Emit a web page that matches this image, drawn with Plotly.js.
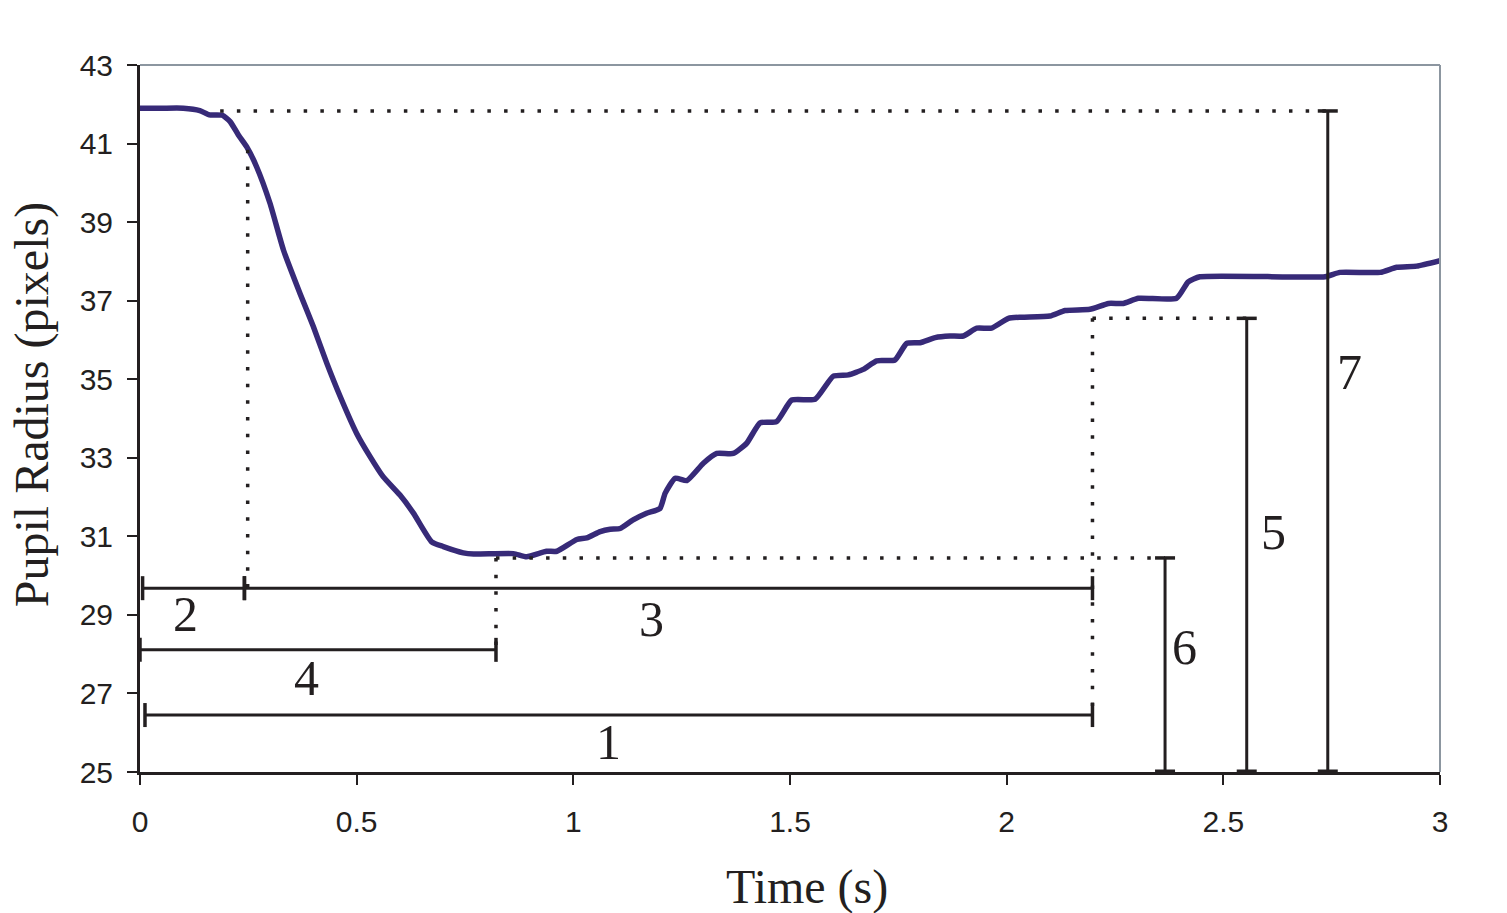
<!DOCTYPE html>
<html>
<head>
<meta charset="utf-8">
<script src="https://cdn.plot.ly/plotly-3.0.1.min.js"></script>
<style>
  html, body { margin: 0; padding: 0; background: #fff; }
  #chart { width: 1507px; height: 913px; }
</style>
</head>
<body>
<div id="chart"></div>
<script>
// pupil radius trace
const time = [0, 0.05, 0.1, 0.138, 0.16, 0.19, 0.208, 0.227, 0.246, 0.269, 0.3, 0.331, 0.369, 0.4, 0.431,
  0.462, 0.5, 0.531, 0.561, 0.6, 0.631, 0.673, 0.7, 0.746, 0.77, 0.862, 0.892, 0.938, 0.962, 1.008,
  1.031, 1.062, 1.085, 1.108, 1.138, 1.169, 1.2, 1.212, 1.235, 1.262, 1.3, 1.331, 1.369, 1.4, 1.431,
  1.469, 1.504, 1.558, 1.6, 1.635, 1.669, 1.7, 1.742, 1.769, 1.8, 1.835, 1.869, 1.9, 1.931, 1.965,
  2.004, 2.035, 2.1, 2.135, 2.192, 2.235, 2.269, 2.304, 2.392, 2.419, 2.446, 2.735, 2.769, 2.862,
  2.9, 2.946, 3.0];
const radius = [41.9, 41.9, 41.9, 41.84, 41.73, 41.72, 41.56, 41.22, 40.92, 40.41, 39.48, 38.29, 37.19, 36.34, 35.41,
  34.56, 33.62, 33.03, 32.52, 32.05, 31.59, 30.86, 30.74, 30.58, 30.55, 30.56, 30.48, 30.62, 30.62, 30.92,
  30.96, 31.12, 31.18, 31.2, 31.42, 31.59, 31.71, 32.1, 32.48, 32.42, 32.86, 33.11, 33.11, 33.37, 33.89,
  33.92, 34.47, 34.49, 35.08, 35.11, 35.25, 35.47, 35.49, 35.91, 35.93, 36.06, 36.1, 36.1, 36.3, 36.3,
  36.55, 36.58, 36.61, 36.75, 36.78, 36.93, 36.93, 37.06, 37.06, 37.48, 37.61, 37.61, 37.72, 37.72,
  37.85, 37.88, 38.02];

// horizontal measurement bars (1..4)
const hBarStart = [0.0115, 0.006, 0.241, 0];
const hBarEnd = [2.198, 0.241, 2.198, 0.8215];
const hBarLevel = [26.45, 29.68, 29.68, 28.11];

// vertical measurement bars (6, 5, 7), standing on the axis floor
const vBarTime = [2.3655, 2.554, 2.741];
const vBarTop = [30.45, 36.55, 41.83];
const floor = 25;

// dotted guide lines
const guideX0 = [0.185, 0.2485, 0.8215, 0.8215, 2.198, 2.198];
const guideX1 = [2.741, 0.2485, 0.8215, 2.3655, 2.198, 2.554];
const guideY0 = [41.83, 40.84, 30.45, 30.45, 36.55, 36.55];
const guideY1 = [41.83, 29.68, 28.11, 30.45, 26.45, 36.55];

// bar numbers
const labelText = ['1', '2', '3', '4', '5', '6', '7'];
const labelTime = [1.082, 0.104, 1.181, 0.385, 2.615, 2.411, 2.79];
const labelRadius = [25.77, 29.03, 28.9, 27.39, 31.11, 28.18, 35.18];

const ink = '#231f20';
const serif = 'Liberation Serif, Times New Roman, serif';
const sans = 'Liberation Sans, Arial, sans-serif';

const shapes = [];

// top and right frame, grey
shapes.push({ type: 'line', xref: 'paper', yref: 'paper', x0: 0, x1: 1, y0: 1, y1: 1, line: { color: '#8c96a0', width: 2 } });
shapes.push({ type: 'line', xref: 'paper', yref: 'paper', x0: 1, x1: 1, y0: 0, y1: 1, line: { color: '#8c96a0', width: 2 } });

guideX0.forEach((x0, i) => {
  shapes.push({
    type: 'line', xref: 'x', yref: 'y', x0, x1: guideX1[i], y0: guideY0[i], y1: guideY1[i],
    line: { color: ink, width: 3.5, dash: '3.5px,13.2px' },
  });
});

hBarStart.forEach((x0, i) => {
  const x1 = hBarEnd[i];
  const y = hBarLevel[i];
  shapes.push({ type: 'line', xref: 'x', yref: 'y', x0, x1, y0: y, y1: y, line: { color: ink, width: 3 } });
  [x0, x1].forEach((xc) => {
    shapes.push({
      type: 'line', xref: 'x', yref: 'y', ysizemode: 'pixel', yanchor: y,
      x0: xc, x1: xc, y0: -12, y1: 12, line: { color: ink, width: 3.5 },
    });
  });
});

vBarTime.forEach((x, i) => {
  const top = vBarTop[i];
  shapes.push({ type: 'line', xref: 'x', yref: 'y', x0: x, x1: x, y0: floor, y1: top, line: { color: ink, width: 3 } });
  [floor, top].forEach((yc) => {
    shapes.push({
      type: 'line', xref: 'x', yref: 'y', xsizemode: 'pixel', xanchor: x,
      x0: -10, x1: 10, y0: yc, y1: yc, line: { color: ink, width: yc === floor ? 5 : 3.5 },
    });
  });
});

const annotations = labelText.map((text, i) => ({
  x: labelTime[i], y: labelRadius[i], xref: 'x', yref: 'y', text, showarrow: false,
  font: { family: serif, size: 50, color: ink },
}));

// axis titles sit a little off-centre in the original, so place them as annotations
annotations.push({
  xref: 'paper', yref: 'paper', x: 0.513, y: -0.1627, xanchor: 'center', yanchor: 'middle',
  text: 'Time (s)', showarrow: false, font: { family: serif, size: 48, color: ink },
});
annotations.push({
  xref: 'paper', yref: 'paper', x: -0.083, y: 0.519, xanchor: 'center', yanchor: 'middle',
  text: 'Pupil Radius (pixels)', textangle: -90, showarrow: false, borderpad: 0,
  font: { family: serif, size: 48, color: ink },
});

const traces = [{
  type: 'scatter',
  mode: 'lines',
  x: time,
  y: radius,
  line: { color: '#372a78', width: 5.5, shape: 'spline', smoothing: 0.5 },
  hoverinfo: 'x+y',
}];

const layout = {
  width: 1507,
  height: 913,
  margin: { l: 140, r: 67, t: 65, b: 141 },
  paper_bgcolor: '#fff',
  plot_bgcolor: '#fff',
  showlegend: false,
  shapes,
  annotations,
  xaxis: {
    range: [0, 3],
    tickvals: [0, 0.5, 1, 1.5, 2, 2.5, 3],
    ticktext: ['0', '0.5', '1', '1.5', '2', '2.5', '3'],
    showgrid: false,
    zeroline: false,
    showline: true,
    linecolor: ink,
    linewidth: 3,
    ticks: 'outside',
    ticklen: 10,
    tickwidth: 2,
    tickcolor: ink,
    ticklabelstandoff: 11,
    tickfont: { family: sans, size: 30, color: ink },
  },
  yaxis: {
    range: [25, 43],
    tickvals: [25, 27, 29, 31, 33, 35, 37, 39, 41, 43],
    showgrid: false,
    zeroline: false,
    showline: true,
    linecolor: ink,
    linewidth: 3,
    ticks: 'outside',
    ticklen: 10,
    tickwidth: 2,
    tickcolor: ink,
    ticklabelstandoff: 8,
    tickfont: { family: sans, size: 30, color: ink },
  },
};

Plotly.newPlot('chart', traces, layout, { displayModeBar: false, staticPlot: true });
</script>
</body>
</html>
